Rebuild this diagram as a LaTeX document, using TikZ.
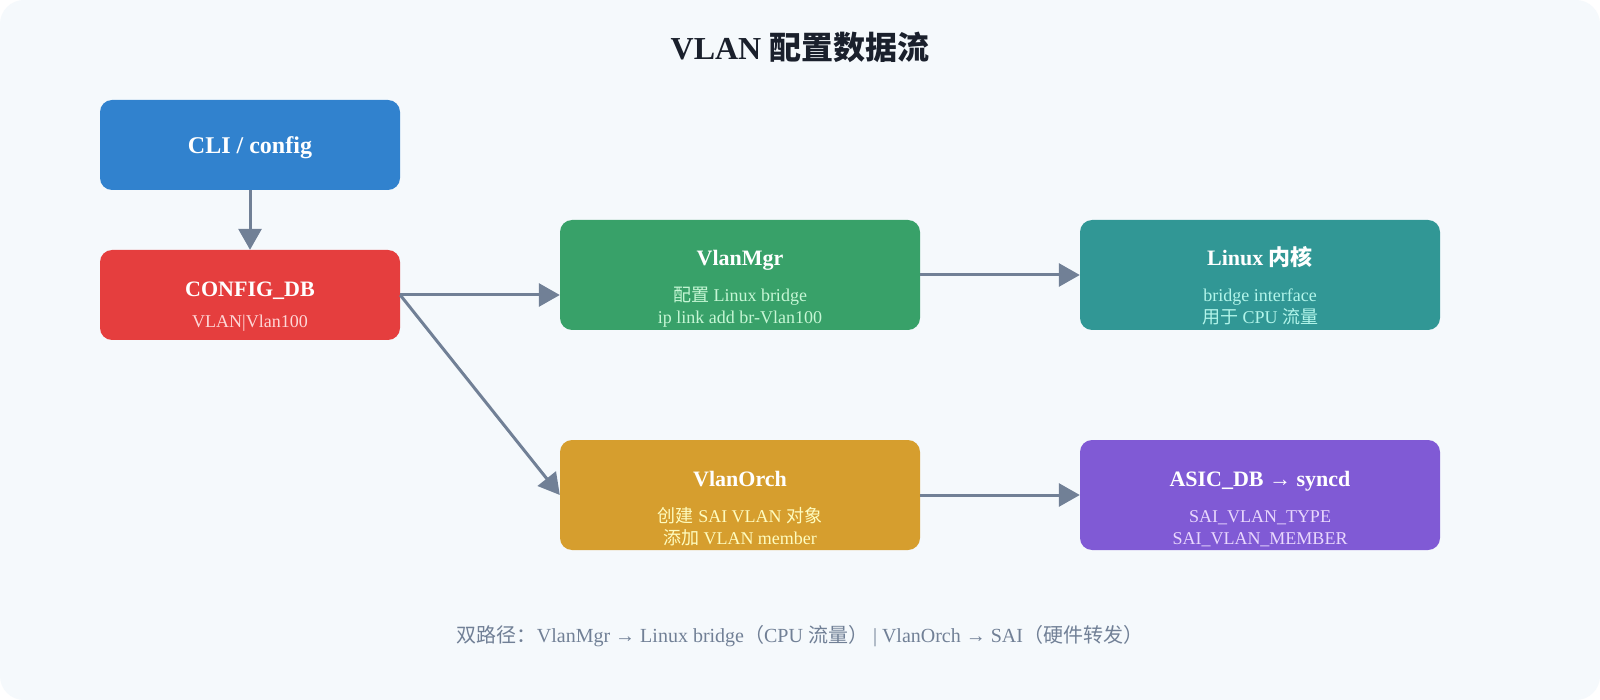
\documentclass[tikz,border=0pt]{standalone}
\usepackage{fontspec}
\setmainfont{Liberation Serif}
\newfontfamily\cjk{Noto Sans CJK SC}
\usetikzlibrary{arrows.meta}
\definecolor{bgc}{HTML}{F5F9FC}
\definecolor{titlec}{HTML}{1A202C}
\definecolor{footc}{HTML}{718096}
\definecolor{arrowc}{HTML}{718096}
\definecolor{cblue}{HTML}{3182CE}
\definecolor{cred}{HTML}{E53E3E}
\definecolor{cgreen}{HTML}{38A169}
\definecolor{cteal}{HTML}{319795}
\definecolor{cgold}{HTML}{D69E2E}
\definecolor{cpurple}{HTML}{805AD5}
\definecolor{tred}{HTML}{FED7D7}
\definecolor{tgreen}{HTML}{C6F6D5}
\definecolor{tteal}{HTML}{B2F5EA}
\definecolor{tgold}{HTML}{FEFCBF}
\definecolor{tpurple}{HTML}{E9D8FD}
\tikzset{
  box/.style={rectangle, rounded corners=12pt, draw=none, inner sep=0pt},
  smallbox/.style={box, minimum width=300pt, minimum height=90pt},
  bigbox/.style={box, minimum width=360pt, minimum height=110pt},
  ttl/.style={anchor=base, text=white, inner sep=0pt, font=\bfseries\fontsize{22}{26}\selectfont},
  sub/.style={anchor=base, inner sep=0pt, font=\fontsize{18}{22}\selectfont},
  conn/.style={draw=arrowc, line width=3pt, -{Triangle[length=21pt,width=23pt]}}
}
\begin{document}
\begin{tikzpicture}[x=1pt,y=-1pt]
\useasboundingbox (0,0) rectangle (1600,700);
\fill[white] (0,0) rectangle (1600,700);
\fill[bgc, rounded corners=24pt] (0,0) rectangle (1600,700);

\node[anchor=base, inner sep=0pt, text=titlec, font=\bfseries\fontsize{32}{38}\selectfont] (title) at (800,60) {VLAN {\cjk\bfseries 配置数据流}};

% boxes
\node[smallbox, fill=cblue] (cli) at (250,145) {};
\node[smallbox, fill=cred] (cfg) at (250,295) {};
\node[bigbox, fill=cgreen] (mgr) at (740,275) {};
\node[bigbox, fill=cteal] (lnx) at (1260,275) {};
\node[bigbox, fill=cgold] (orch) at (740,495) {};
\node[bigbox, fill=cpurple] (asic) at (1260,495) {};

% texts
\node[ttl, font=\bfseries\fontsize{24}{28}\selectfont] (clit) at (250,154) {CLI / config};
\node[ttl] (cfgt) at (250,296.5) {CONFIG\_DB};
\node[sub, text=tred] (cfgs) at (250,327) {VLAN|Vlan100};

\node[ttl] (mgrt) at (740,266) {VlanMgr};
\node[sub, text=tgreen] (mgrs1) at (740,302) {{\cjk 配置} Linux bridge};
\node[sub, text=tgreen] (mgrs2) at (740,324) {ip link add br-Vlan100};

\node[ttl] (lnxt) at (1260,266) {Linux {\cjk\bfseries 内核}};
\node[sub, text=tteal] (lnxs1) at (1260,302) {bridge interface};
\node[sub, text=tteal] (lnxs2) at (1260,324) {{\cjk 用于} CPU {\cjk 流量}};

\node[ttl] (orcht) at (740,486) {VlanOrch};
\node[sub, text=tgold] (orchs1) at (740,522) {{\cjk 创建} SAI VLAN {\cjk 对象}};
\node[sub, text=tgold] (orchs2) at (740,544) {{\cjk 添加} VLAN member};

\node[ttl] (asict) at (1260,486) {ASIC\_DB → syncd};
\node[sub, text=tpurple] (asics1) at (1260,522) {SAI\_VLAN\_TYPE};
\node[sub, text=tpurple] (asics2) at (1260,544) {SAI\_VLAN\_MEMBER};

% connectors
\draw[conn] (cli.south) -- (cfg.north);
\draw[conn] (cfg.east) -- (cfg.east -| mgr.west);
\draw[conn] (cfg.east) -- (orch.west);
\draw[conn] (mgr.east) -- (lnx.west);
\draw[conn] (orch.east) -- (asic.west);

% footer
\node[anchor=base, inner sep=0pt, text=footc, font=\fontsize{20}{24}\selectfont] (foot) at (800,642) {{\cjk 双路径：}VlanMgr → Linux bridge{\cjk （}CPU {\cjk 流量）} | VlanOrch → SAI{\cjk （硬件转发）}};
\end{tikzpicture}
\end{document}
